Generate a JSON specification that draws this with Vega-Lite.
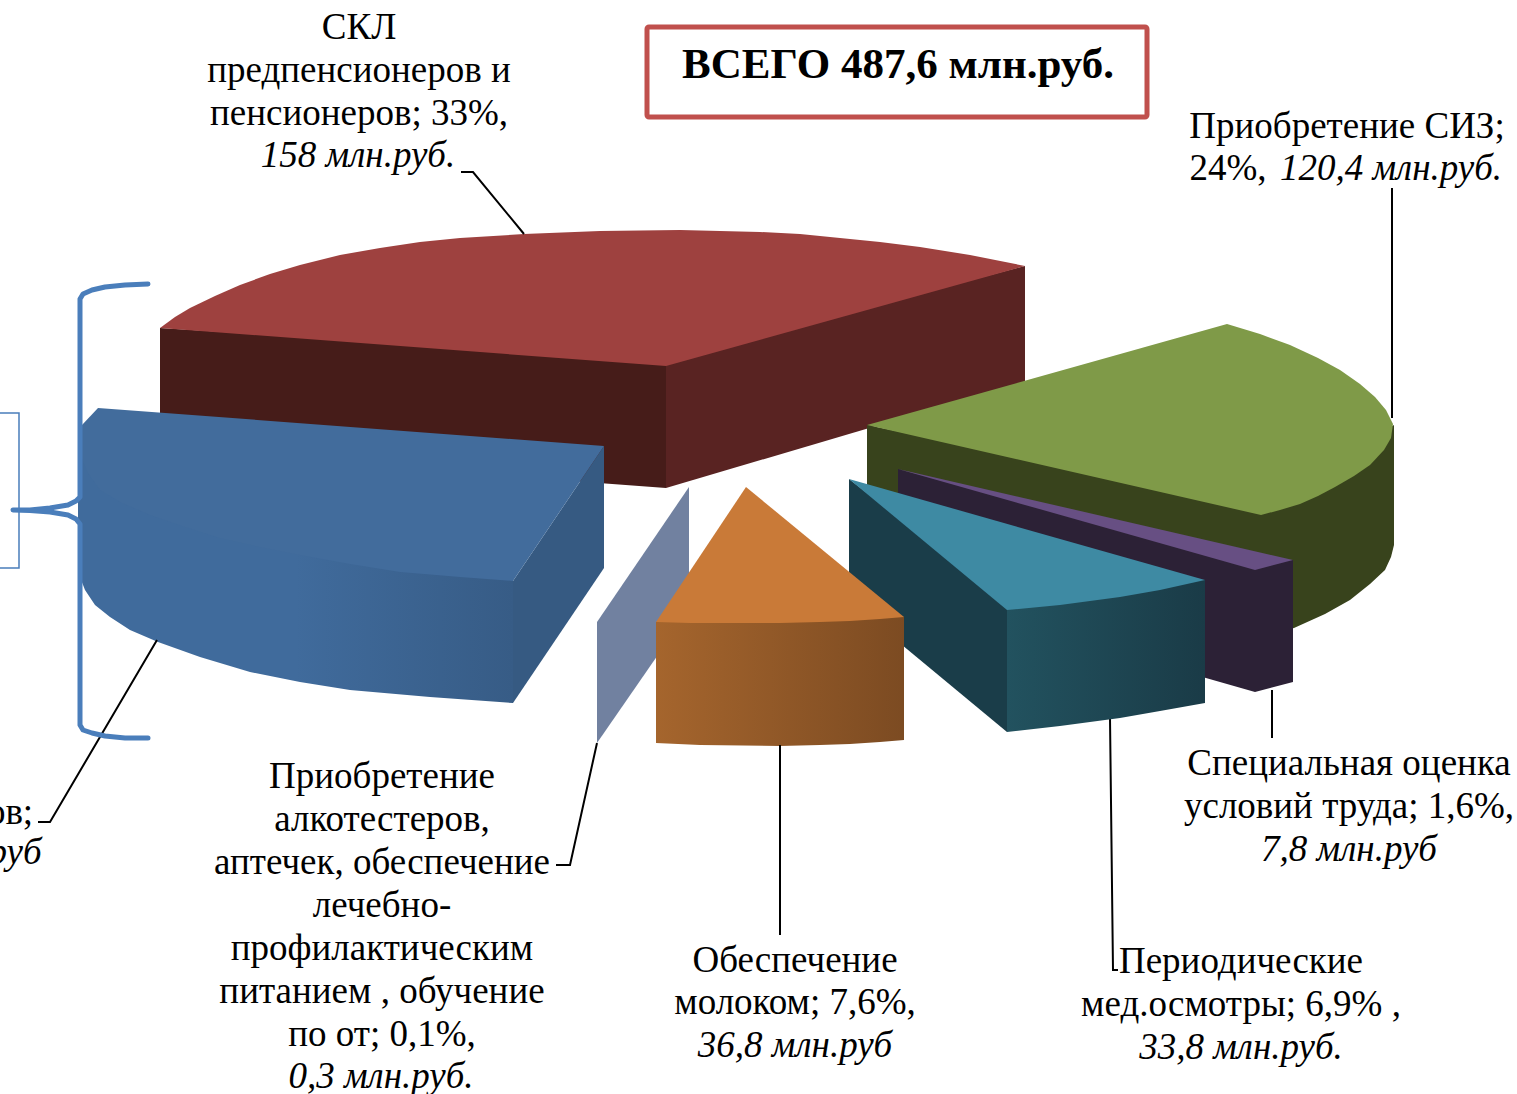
{"$schema":"https://vega.github.io/schema/vega-lite/v6.json","width":1517,"height":1094,"padding":0,"autosize":{"type":"none"},"background":"#ffffff","config":{"view":{"stroke":null}},
"datasets":{"shapes":[
{"s":"redLeft","i":0,"x":160,"y":328},{"s":"redLeft","i":1,"x":666,"y":360},{"s":"redLeft","i":2,"x":666,"y":488},{"s":"redLeft","i":3,"x":160,"y":450},
{"s":"redRight","i":0,"x":666,"y":360},{"s":"redRight","i":1,"x":1025,"y":266},{"s":"redRight","i":2,"x":1025,"y":382},{"s":"redRight","i":3,"x":666,"y":488},
{"s":"redTop","i":0,"x":160,"y":328},{"s":"redTop","i":1,"x":175,"y":317},{"s":"redTop","i":2,"x":190,"y":308},{"s":"redTop","i":3,"x":215,"y":296},{"s":"redTop","i":4,"x":240,"y":285},{"s":"redTop","i":5,"x":270,"y":274},{"s":"redTop","i":6,"x":300,"y":265},{"s":"redTop","i":7,"x":340,"y":255},{"s":"redTop","i":8,"x":380,"y":248},{"s":"redTop","i":9,"x":420,"y":242},{"s":"redTop","i":10,"x":460,"y":238},{"s":"redTop","i":11,"x":524,"y":234},{"s":"redTop","i":12,"x":600,"y":231},{"s":"redTop","i":13,"x":680,"y":230},{"s":"redTop","i":14,"x":760,"y":232},{"s":"redTop","i":15,"x":800,"y":234},{"s":"redTop","i":16,"x":840,"y":238},{"s":"redTop","i":17,"x":880,"y":242},{"s":"redTop","i":18,"x":920,"y":247},{"s":"redTop","i":19,"x":970,"y":255},{"s":"redTop","i":20,"x":1025,"y":266},{"s":"redTop","i":21,"x":666,"y":366},
{"s":"greenSide","i":0,"x":867,"y":425},{"s":"greenSide","i":1,"x":1261,"y":505},{"s":"greenSide","i":2,"x":1394,"y":425},{"s":"greenSide","i":3,"x":1394,"y":545},{"s":"greenSide","i":4,"x":1391,"y":557},{"s":"greenSide","i":5,"x":1385,"y":570},{"s":"greenSide","i":6,"x":1370,"y":584},{"s":"greenSide","i":7,"x":1350,"y":600},{"s":"greenSide","i":8,"x":1325,"y":614},{"s":"greenSide","i":9,"x":1294,"y":628},{"s":"greenSide","i":10,"x":1250,"y":640},{"s":"greenSide","i":11,"x":867,"y":540},
{"s":"greenTop","i":0,"x":867,"y":425},{"s":"greenTop","i":1,"x":1227,"y":324},{"s":"greenTop","i":2,"x":1260,"y":334},{"s":"greenTop","i":3,"x":1290,"y":345},{"s":"greenTop","i":4,"x":1318,"y":358},{"s":"greenTop","i":5,"x":1340,"y":370},{"s":"greenTop","i":6,"x":1360,"y":384},{"s":"greenTop","i":7,"x":1375,"y":397},{"s":"greenTop","i":8,"x":1386,"y":410},{"s":"greenTop","i":9,"x":1393,"y":424},{"s":"greenTop","i":10,"x":1391,"y":438},{"s":"greenTop","i":11,"x":1384,"y":450},{"s":"greenTop","i":12,"x":1370,"y":465},{"s":"greenTop","i":13,"x":1354,"y":476},{"s":"greenTop","i":14,"x":1335,"y":487},{"s":"greenTop","i":15,"x":1318,"y":496},{"s":"greenTop","i":16,"x":1300,"y":504},{"s":"greenTop","i":17,"x":1280,"y":510},{"s":"greenTop","i":18,"x":1261,"y":515},
{"s":"purpleSide","i":0,"x":898,"y":469},{"s":"purpleSide","i":1,"x":1255,"y":565},{"s":"purpleSide","i":2,"x":1293,"y":560},{"s":"purpleSide","i":3,"x":1293,"y":682},{"s":"purpleSide","i":4,"x":1255,"y":692},{"s":"purpleSide","i":5,"x":898,"y":590},
{"s":"purpleTop","i":0,"x":898,"y":469},{"s":"purpleTop","i":1,"x":1293,"y":560},{"s":"purpleTop","i":2,"x":1255,"y":570},
{"s":"tealLeft","i":0,"x":849,"y":479},{"s":"tealLeft","i":1,"x":1010,"y":605},{"s":"tealLeft","i":2,"x":1007,"y":732},{"s":"tealLeft","i":3,"x":849,"y":601},
{"s":"tealFront","i":0,"x":1007,"y":600},{"s":"tealFront","i":1,"x":1060,"y":595},{"s":"tealFront","i":2,"x":1120,"y":587},{"s":"tealFront","i":3,"x":1205,"y":580},{"s":"tealFront","i":4,"x":1205,"y":703},{"s":"tealFront","i":5,"x":1160,"y":711},{"s":"tealFront","i":6,"x":1120,"y":718},{"s":"tealFront","i":7,"x":1060,"y":726},{"s":"tealFront","i":8,"x":1007,"y":732},
{"s":"tealTop","i":0,"x":849,"y":479},{"s":"tealTop","i":1,"x":1205,"y":580},{"s":"tealTop","i":2,"x":1160,"y":590},{"s":"tealTop","i":3,"x":1120,"y":597},{"s":"tealTop","i":4,"x":1060,"y":605},{"s":"tealTop","i":5,"x":1007,"y":610},
{"s":"sliver","i":0,"x":689,"y":487},{"s":"sliver","i":1,"x":689,"y":610},{"s":"sliver","i":2,"x":597,"y":743},{"s":"sliver","i":3,"x":597,"y":622},
{"s":"orangeFront","i":0,"x":656,"y":622},{"s":"orangeFront","i":1,"x":700,"y":612},{"s":"orangeFront","i":2,"x":860,"y":610},{"s":"orangeFront","i":3,"x":904,"y":617},{"s":"orangeFront","i":4,"x":904,"y":740},{"s":"orangeFront","i":5,"x":880,"y":742},{"s":"orangeFront","i":6,"x":850,"y":744},{"s":"orangeFront","i":7,"x":820,"y":745},{"s":"orangeFront","i":8,"x":780,"y":746},{"s":"orangeFront","i":9,"x":700,"y":745},{"s":"orangeFront","i":10,"x":656,"y":743},
{"s":"orangeTop","i":0,"x":746,"y":487},{"s":"orangeTop","i":1,"x":904,"y":617},{"s":"orangeTop","i":2,"x":880,"y":619},{"s":"orangeTop","i":3,"x":850,"y":621},{"s":"orangeTop","i":4,"x":820,"y":622},{"s":"orangeTop","i":5,"x":780,"y":623},{"s":"orangeTop","i":6,"x":720,"y":623},{"s":"orangeTop","i":7,"x":690,"y":623},{"s":"orangeTop","i":8,"x":656,"y":622},
{"s":"blueFront","i":0,"x":78,"y":440},{"s":"blueFront","i":1,"x":150,"y":505},{"s":"blueFront","i":2,"x":513,"y":570},{"s":"blueFront","i":3,"x":513,"y":703},{"s":"blueFront","i":4,"x":430,"y":697},{"s":"blueFront","i":5,"x":350,"y":690},{"s":"blueFront","i":6,"x":300,"y":682},{"s":"blueFront","i":7,"x":250,"y":672},{"s":"blueFront","i":8,"x":200,"y":657},{"s":"blueFront","i":9,"x":158,"y":642},{"s":"blueFront","i":10,"x":130,"y":630},{"s":"blueFront","i":11,"x":110,"y":617},{"s":"blueFront","i":12,"x":95,"y":605},{"s":"blueFront","i":13,"x":85,"y":590},{"s":"blueFront","i":14,"x":78,"y":572},
{"s":"blueCut","i":0,"x":604,"y":446},{"s":"blueCut","i":1,"x":604,"y":568},{"s":"blueCut","i":2,"x":513,"y":703},{"s":"blueCut","i":3,"x":513,"y":581},
{"s":"blueTop","i":0,"x":98,"y":408},{"s":"blueTop","i":1,"x":604,"y":446},{"s":"blueTop","i":2,"x":513,"y":581},{"s":"blueTop","i":3,"x":460,"y":577},{"s":"blueTop","i":4,"x":400,"y":572},{"s":"blueTop","i":5,"x":350,"y":564},{"s":"blueTop","i":6,"x":300,"y":555},{"s":"blueTop","i":7,"x":260,"y":547},{"s":"blueTop","i":8,"x":220,"y":538},{"s":"blueTop","i":9,"x":185,"y":527},{"s":"blueTop","i":10,"x":150,"y":515},{"s":"blueTop","i":11,"x":122,"y":503},{"s":"blueTop","i":12,"x":100,"y":490},{"s":"blueTop","i":13,"x":88,"y":473},{"s":"blueTop","i":14,"x":79,"y":452},{"s":"blueTop","i":15,"x":78,"y":440},{"s":"blueTop","i":16,"x":82,"y":425}
],
"leaders":[
{"s":"a","i":0,"x":461,"y":172},{"s":"a","i":1,"x":473,"y":172},{"s":"a","i":2,"x":524,"y":234},
{"s":"b","i":0,"x":1392,"y":188},{"s":"b","i":1,"x":1392,"y":418},
{"s":"c","i":0,"x":1272,"y":690},{"s":"c","i":1,"x":1272,"y":738},
{"s":"d","i":0,"x":1110,"y":718},{"s":"d","i":1,"x":1113,"y":970},{"s":"d","i":2,"x":1118,"y":970},
{"s":"e","i":0,"x":780,"y":745},{"s":"e","i":1,"x":780,"y":935},
{"s":"f","i":0,"x":597,"y":743},{"s":"f","i":1,"x":570,"y":865},{"s":"f","i":2,"x":556,"y":865},
{"s":"g","i":0,"x":157,"y":640},{"s":"g","i":1,"x":50,"y":822},{"s":"g","i":2,"x":38,"y":822}
],
"brace":[{"i":0,"x":148,"y":284},{"i":1,"x":125,"y":285},{"i":2,"x":105,"y":287},{"i":3,"x":92,"y":290},{"i":4,"x":83,"y":294},{"i":5,"x":80,"y":299},{"i":6,"x":80,"y":497},{"i":7,"x":76,"y":501},{"i":8,"x":68,"y":505},{"i":9,"x":50,"y":508},{"i":10,"x":30,"y":510},{"i":11,"x":13,"y":510},{"i":12,"x":30,"y":510.5},{"i":13,"x":50,"y":512},{"i":14,"x":68,"y":515},{"i":15,"x":76,"y":519},{"i":16,"x":80,"y":524},{"i":17,"x":80,"y":725},{"i":18,"x":83,"y":730},{"i":19,"x":92,"y":733},{"i":20,"x":105,"y":736},{"i":21,"x":125,"y":738},{"i":22,"x":148,"y":738}],
"box":[{"i":0,"x":0,"y":413},{"i":1,"x":19,"y":413},{"i":2,"x":19,"y":568},{"i":3,"x":0,"y":568}],
"frame":[{"x":647,"x2":1147,"y":27,"y2":117}],
"title":[{"t":"ВСЕГО 487,6 млн.руб.","x":898,"y":78}],
"plain":[
{"t":"СКЛ","x":359,"y":39},{"t":"предпенсионеров и","x":359,"y":82},{"t":"пенсионеров; 33%,","x":359,"y":125},
{"t":"Приобретение СИЗ;","x":1347,"y":138},{"t":"24%,","x":1228,"y":180},
{"t":"Специальная оценка","x":1349,"y":775},{"t":"условий труда; 1,6%,","x":1349,"y":818},
{"t":"Периодические","x":1241,"y":973},{"t":"мед.осмотры; 6,9% ,","x":1241,"y":1016},
{"t":"Обеспечение","x":795,"y":972},{"t":"молоком; 7,6%,","x":795,"y":1014},
{"t":"Приобретение","x":382,"y":788},{"t":"алкотестеров,","x":382,"y":831},{"t":"аптечек, обеспечение","x":382,"y":874},{"t":"лечебно-","x":382,"y":917},{"t":"профилактическим","x":382,"y":960},{"t":"питанием , обучение","x":382,"y":1003},{"t":"по от; 0,1%,","x":382,"y":1046},
{"t":"ов;","x":10,"y":824}],
"ital":[
{"t":"158 млн.руб.","x":358,"y":167},{"t":"120,4 млн.руб.","x":1391,"y":180},{"t":"7,8 млн.руб","x":1349,"y":861},{"t":"33,8 млн.руб.","x":1241,"y":1059},{"t":"36,8 млн.руб","x":795,"y":1057},{"t":"0,3 млн.руб.","x":381,"y":1088},{"t":"руб","x":15,"y":864}]
},
"encoding":{"x":{"field":"x","type":"quantitative","axis":null,"scale":{"domain":[0,1517],"nice":false,"zero":false}},"y":{"field":"y","type":"quantitative","axis":null,"scale":{"domain":[1094,0],"nice":false,"zero":false}}},
"layer":[
{"data":{"name":"shapes"},"transform":[{"filter":"datum.s==='redLeft'"}],"mark":{"type":"line","fill":"#461C19","stroke":"transparent"},"encoding":{"order":{"field":"i"}}},
{"data":{"name":"shapes"},"transform":[{"filter":"datum.s==='redRight'"}],"mark":{"type":"line","fill":"#592322","stroke":"transparent"},"encoding":{"order":{"field":"i"}}},
{"data":{"name":"shapes"},"transform":[{"filter":"datum.s==='redTop'"}],"mark":{"type":"line","fill":"#9E413F","stroke":"transparent"},"encoding":{"order":{"field":"i"}}},
{"data":{"name":"shapes"},"transform":[{"filter":"datum.s==='greenSide'"}],"mark":{"type":"line","fill":"#38431C","stroke":"transparent"},"encoding":{"order":{"field":"i"}}},
{"data":{"name":"shapes"},"transform":[{"filter":"datum.s==='greenTop'"}],"mark":{"type":"line","fill":"#7F9A48","stroke":"transparent"},"encoding":{"order":{"field":"i"}}},
{"data":{"name":"leaders"},"transform":[{"filter":"datum.s==='b'||datum.s==='c'||datum.s==='d'"}],"mark":{"type":"line","stroke":"#000000","strokeWidth":2},"encoding":{"detail":{"field":"s"},"order":{"field":"i"}}},
{"data":{"name":"shapes"},"transform":[{"filter":"datum.s==='purpleSide'"}],"mark":{"type":"line","fill":"#2C2136","stroke":"transparent"},"encoding":{"order":{"field":"i"}}},
{"data":{"name":"shapes"},"transform":[{"filter":"datum.s==='purpleTop'"}],"mark":{"type":"line","fill":"#674F83","stroke":"transparent"},"encoding":{"order":{"field":"i"}}},
{"data":{"name":"shapes"},"transform":[{"filter":"datum.s==='tealLeft'"}],"mark":{"type":"line","fill":"#1A3D49","stroke":"transparent"},"encoding":{"order":{"field":"i"}}},
{"data":{"name":"shapes"},"transform":[{"filter":"datum.s==='tealFront'"}],"mark":{"type":"line","fill":{"gradient":"linear","x1":0,"y1":0,"x2":1,"y2":0,"stops":[{"offset":0,"color":"#22525F"},{"offset":1,"color":"#1A3B47"}]},"stroke":"transparent"},"encoding":{"order":{"field":"i"}}},
{"data":{"name":"shapes"},"transform":[{"filter":"datum.s==='tealTop'"}],"mark":{"type":"line","fill":"#3E8AA3","stroke":"transparent"},"encoding":{"order":{"field":"i"}}},
{"data":{"name":"shapes"},"transform":[{"filter":"datum.s==='sliver'"}],"mark":{"type":"line","fill":"#7181A0","stroke":"transparent"},"encoding":{"order":{"field":"i"}}},
{"data":{"name":"shapes"},"transform":[{"filter":"datum.s==='orangeFront'"}],"mark":{"type":"line","fill":{"gradient":"linear","x1":0,"y1":0,"x2":1,"y2":0,"stops":[{"offset":0,"color":"#A5652D"},{"offset":1,"color":"#7C4B22"}]},"stroke":"transparent"},"encoding":{"order":{"field":"i"}}},
{"data":{"name":"shapes"},"transform":[{"filter":"datum.s==='orangeTop'"}],"mark":{"type":"line","fill":"#C97A38","stroke":"transparent"},"encoding":{"order":{"field":"i"}}},
{"data":{"name":"shapes"},"transform":[{"filter":"datum.s==='blueFront'"}],"mark":{"type":"line","fill":{"gradient":"linear","x1":0,"y1":0,"x2":1,"y2":0,"stops":[{"offset":0,"color":"#406B9C"},{"offset":0.5,"color":"#406B9C"},{"offset":1,"color":"#375C86"}]},"stroke":"transparent"},"encoding":{"order":{"field":"i"}}},
{"data":{"name":"shapes"},"transform":[{"filter":"datum.s==='blueCut'"}],"mark":{"type":"line","fill":"#365A82","stroke":"transparent"},"encoding":{"order":{"field":"i"}}},
{"data":{"name":"shapes"},"transform":[{"filter":"datum.s==='blueTop'"}],"mark":{"type":"line","fill":"#426C9C","stroke":"transparent"},"encoding":{"order":{"field":"i"}}},
{"data":{"name":"leaders"},"transform":[{"filter":"datum.s==='a'||datum.s==='e'||datum.s==='f'||datum.s==='g'"}],"mark":{"type":"line","stroke":"#000000","strokeWidth":2},"encoding":{"detail":{"field":"s"},"order":{"field":"i"}}},
{"data":{"name":"box"},"mark":{"type":"line","stroke":"#4A7EBB","strokeWidth":1.5},"encoding":{"order":{"field":"i"}}},
{"data":{"name":"brace"},"mark":{"type":"line","stroke":"#4A7EBB","strokeWidth":5,"strokeJoin":"round","strokeCap":"round"},"encoding":{"order":{"field":"i"}}},
{"data":{"name":"frame"},"mark":{"type":"rect","fill":"#ffffff","stroke":"#C0504D","strokeWidth":5,"cornerRadius":2},"encoding":{"x2":{"field":"x2"},"y2":{"field":"y2"}}},
{"data":{"name":"title"},"mark":{"type":"text","font":"Liberation Serif","fontSize":43,"fontWeight":"bold","color":"#000000","baseline":"alphabetic"},"encoding":{"text":{"field":"t"}}},
{"data":{"name":"plain"},"mark":{"type":"text","font":"Liberation Serif","fontSize":37,"color":"#000000","baseline":"alphabetic"},"encoding":{"text":{"field":"t"}}},
{"data":{"name":"ital"},"mark":{"type":"text","font":"Liberation Serif","fontSize":37,"fontStyle":"italic","color":"#000000","baseline":"alphabetic"},"encoding":{"text":{"field":"t"}}}
]}
